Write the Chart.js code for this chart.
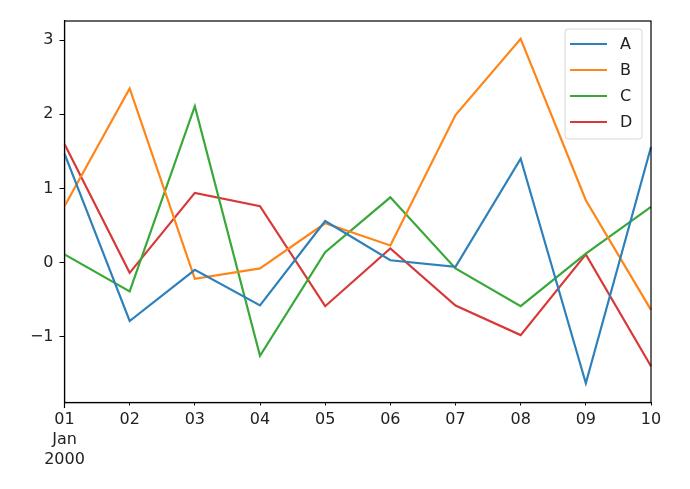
<!DOCTYPE html>
<html>
<head>
<meta charset="utf-8">
<script src="https://cdn.jsdelivr.net/npm/chart.js@4"></script>
<style>
html,body{margin:0;padding:0;background:#fff;}
#wrap{width:690px;height:489px;position:relative;}
</style>
</head>
<body>
<div id="wrap"><canvas id="c" width="690" height="489"></canvas></div>
<script>
const categories = [['01','Jan','2000'],'02','03','04','05','06','07','08','09','10'];
const seriesNames = ['A','B','C','D'];
const seriesA = [1.47,-0.79,-0.10,-0.58,0.56,0.03,-0.06,1.40,-1.63,1.56];
const seriesB = [0.76,2.35,-0.22,-0.08,0.53,0.23,1.99,3.02,0.84,-0.64];
const seriesC = [0.11,-0.39,2.11,-1.26,0.14,0.88,-0.08,-0.59,0.12,0.75];
const seriesD = [1.60,-0.14,0.94,0.76,-0.59,0.19,-0.58,-0.98,0.11,-1.40];
const yTicks = [-1,0,1,2,3];
const yMin = -1.89, yMax = 3.26;
const colors = ['#2e80bb','#ff8519','#38a838','#d83838'];

const allSeries = [seriesA, seriesB, seriesC, seriesD];
const FONT = 'DejaVu Sans';
const TXT = '#222';

const framePlugin = {
  id: 'frame',
  afterDraw(chart) {
    const {ctx, chartArea: a} = chart;
    ctx.save();
    ctx.strokeStyle = '#000';
    ctx.lineWidth = 1.2;
    ctx.strokeRect(a.left, a.top, a.right - a.left, a.bottom - a.top);
    ctx.beginPath();
    ctx.moveTo(a.left, a.bottom);
    ctx.lineTo(a.left, a.bottom + 5.5);
    ctx.stroke();
    const lx = 565, ly = 29, lw = 77, lh = 110, r = 3;
    ctx.beginPath();
    ctx.moveTo(lx + r, ly);
    ctx.lineTo(lx + lw - r, ly); ctx.quadraticCurveTo(lx + lw, ly, lx + lw, ly + r);
    ctx.lineTo(lx + lw, ly + lh - r); ctx.quadraticCurveTo(lx + lw, ly + lh, lx + lw - r, ly + lh);
    ctx.lineTo(lx + r, ly + lh); ctx.quadraticCurveTo(lx, ly + lh, lx, ly + lh - r);
    ctx.lineTo(lx, ly + r); ctx.quadraticCurveTo(lx, ly, lx + r, ly);
    ctx.closePath();
    ctx.fillStyle = 'rgba(255,255,255,0.8)';
    ctx.fill();
    ctx.strokeStyle = '#d6d6d6';
    ctx.lineWidth = 1;
    ctx.stroke();
    ctx.font = '16px "' + FONT + '"';
    ctx.textBaseline = 'middle';
    ctx.textAlign = 'left';
    chart.data.datasets.forEach((ds, i) => {
      const y = 44 + i * 26;
      ctx.strokeStyle = ds.borderColor;
      ctx.lineWidth = 2.2;
      ctx.beginPath();
      ctx.moveTo(570, y);
      ctx.lineTo(607, y);
      ctx.stroke();
      ctx.fillStyle = TXT;
      ctx.fillText(ds.label, 620, y + 1);
    });
    ctx.restore();
  }
};

new Chart(document.getElementById('c'), {
  type: 'line',
  data: {
    labels: categories,
    datasets: allSeries.map((d, i) => ({
      label: seriesNames[i],
      data: d,
      borderColor: colors[i],
      backgroundColor: colors[i],
      borderWidth: 2.2,
      pointRadius: 0,
      tension: 0,
      fill: false
    }))
  },
  options: {
    responsive: false,
    animation: false,
    devicePixelRatio: 1,
    layout: {padding: {left: 0, top: 21, right: 39, bottom: 0}},
    plugins: {legend: {display: false}, tooltip: {enabled: false}},
    scales: {
      x: {
        type: 'category',
        offset: false,
        grid: {display: true, drawOnChartArea: false, drawTicks: true, tickLength: 3, tickColor: '#000', tickWidth: 1},
        border: {display: true, color: '#000', width: 1.2},
        ticks: {color: TXT, font: {family: FONT, size: 16, lineHeight: 1.25}, padding: 4, maxRotation: 0, autoSkip: false},
        afterFit(s) { s.height = 86.5; }
      },
      y: {
        type: 'linear',
        min: yMin, max: yMax,
        afterBuildTicks(s) { s.ticks = yTicks.map(v => ({value: v})); },
        grid: {display: true, drawOnChartArea: false, drawTicks: true, tickLength: 5, tickColor: '#000', tickWidth: 1},
        border: {display: true, color: '#000', width: 1.2},
        ticks: {color: TXT, font: {family: FONT, size: 16}, padding: 6,
          callback: v => (v < 0 ? '\u2212' + Math.abs(v) : String(v))},
        afterFit(s) { s.width = 64.5; }
      }
    }
  },
  plugins: [framePlugin]
});
</script>
</body>
</html>
